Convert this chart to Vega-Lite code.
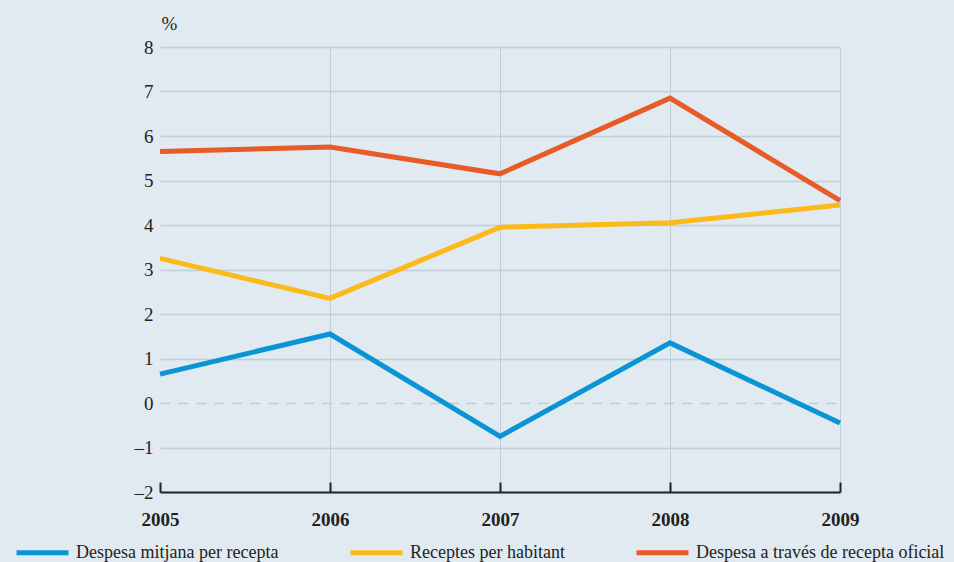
{
  "$schema": "https://vega.github.io/schema/vega-lite/v6.json",
  "width": 680,
  "height": 445,
  "autosize": "none",
  "padding": {"left": 160, "top": 47, "right": 114, "bottom": 70},
  "background": "#e1eaf0",
  "config": {
    "view": {"stroke": null},
    "font": "Liberation Serif"
  },
  "data": {
    "values": [
      {"year": 2005, "serie": "Despesa mitjana per recepta", "value": 0.65},
      {"year": 2006, "serie": "Despesa mitjana per recepta", "value": 1.55},
      {"year": 2007, "serie": "Despesa mitjana per recepta", "value": -0.75},
      {"year": 2008, "serie": "Despesa mitjana per recepta", "value": 1.35},
      {"year": 2009, "serie": "Despesa mitjana per recepta", "value": -0.45},
      {"year": 2005, "serie": "Receptes per habitant", "value": 3.25},
      {"year": 2006, "serie": "Receptes per habitant", "value": 2.35},
      {"year": 2007, "serie": "Receptes per habitant", "value": 3.95},
      {"year": 2008, "serie": "Receptes per habitant", "value": 4.05},
      {"year": 2009, "serie": "Receptes per habitant", "value": 4.45},
      {"year": 2005, "serie": "Despesa a través de recepta oficial", "value": 5.65},
      {"year": 2006, "serie": "Despesa a través de recepta oficial", "value": 5.75},
      {"year": 2007, "serie": "Despesa a través de recepta oficial", "value": 5.15},
      {"year": 2008, "serie": "Despesa a través de recepta oficial", "value": 6.85},
      {"year": 2009, "serie": "Despesa a través de recepta oficial", "value": 4.55}
    ]
  },
  "mark": {"type": "line", "strokeWidth": 5, "strokeJoin": "miter", "clip": false},
  "encoding": {
    "x": {
      "field": "year",
      "type": "quantitative",
      "scale": {"domain": [2005, 2009], "nice": false, "zero": false},
      "axis": {
        "values": [2005, 2006, 2007, 2008, 2009],
        "format": "d",
        "title": null,
        "domainColor": "#222222",
        "domainWidth": 2,
        "tickColor": "#222222",
        "tickWidth": 2,
        "tickSize": -10,
        "labelPadding": 28,
        "labelFont": "Liberation Serif",
        "labelFontSize": 19,
        "labelFontWeight": "bold",
        "labelColor": "#222222",
        "labelFlush": false,
        "grid": true,
        "gridColor": "#bccfda",
        "gridWidth": 1,
        "gridOpacity": {"condition": {"test": "datum.value == 2005", "value": 0}, "value": 1}
      }
    },
    "y": {
      "field": "value",
      "type": "quantitative",
      "scale": {"domain": [-2, 8], "nice": false},
      "axis": {
        "values": [-2, -1, 0, 1, 2, 3, 4, 5, 6, 7, 8],
        "labelExpr": "replace(datum.label, '−', '–')",
        "title": "%",
        "titleAngle": 0,
        "titleX": 1,
        "titleY": -24,
        "titleAlign": "left",
        "titleBaseline": "middle",
        "titleFont": "Liberation Serif",
        "titleFontSize": 19,
        "titleFontWeight": "normal",
        "titleColor": "#222222",
        "domain": false,
        "ticks": false,
        "labelPadding": 7,
        "labelFont": "Liberation Serif",
        "labelFontSize": 19,
        "labelColor": "#222222",
        "grid": true,
        "gridColor": "#bccfda",
        "gridWidth": 1.5,
        "gridDash": {"condition": {"test": "datum.value == 0", "value": [10, 8]}, "value": []}
      }
    },
    "color": {
      "field": "serie",
      "type": "nominal",
      "scale": {
        "domain": ["Despesa mitjana per recepta", "Receptes per habitant", "Despesa a través de recepta oficial"],
        "range": ["#0a94d5", "#fbb91a", "#e85a26"]
      },
      "legend": {
        "title": null,
        "orient": "none",
        "legendX": -146,
        "legendY": 477,
        "direction": "horizontal",
        "columns": 3,
        "columnPadding": 61,
        "padding": 0,
        "symbolType": "stroke",
        "symbolSize": 2700,
        "symbolStrokeWidth": 5,
        "labelFont": "Liberation Serif",
        "labelFontSize": 18,
        "labelColor": "#222222",
        "labelOffset": 5,
        "labelLimit": 400
      }
    }
  }
}
